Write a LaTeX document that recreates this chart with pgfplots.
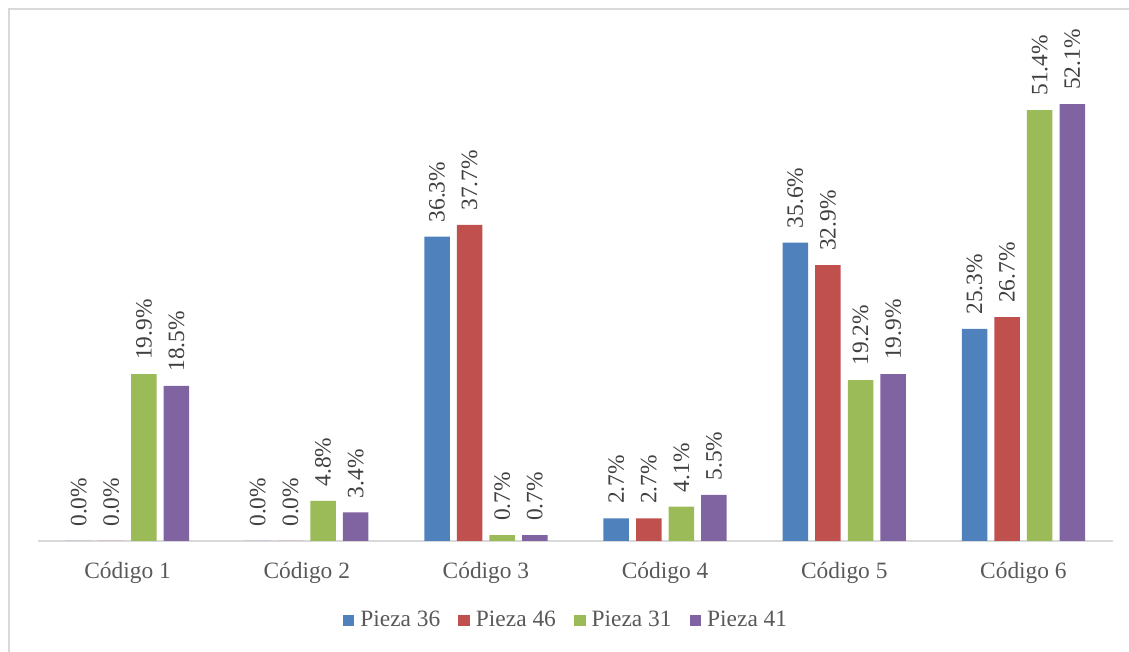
\documentclass[border=0pt]{standalone}
\usepackage{pgfplots}
\pgfplotsset{compat=1.18}
\usepackage{fontspec}
\setmainfont{Liberation Serif}

\definecolor{p36}{HTML}{4F81BD}
\definecolor{p46}{HTML}{C0504D}
\definecolor{p31}{HTML}{9BBB59}
\definecolor{p41}{HTML}{8064A2}
\definecolor{gridgray}{HTML}{D9D9D9}
\definecolor{labelgray}{HTML}{404040}
\definecolor{textgray}{HTML}{595959}

\begin{document}
\begin{tikzpicture}[font=\fontsize{11.7pt}{14pt}\selectfont]
  \useasboundingbox (0,0) rectangle (564.5pt,326pt);
  % outer chart frame
  \draw[gridgray, line width=1pt] (4.5pt,-20pt) -- (4.5pt,321.5pt) -- (600pt,321.5pt);
  \begin{axis}[
    at={(19pt,55.5pt)}, anchor=south west,
    scale only axis, width=537.5pt, height=251.5pt,
    ybar=3.55pt, bar width=12.75pt,
    xmin=-0.5, xmax=5.5, ymin=0, ymax=60,
    axis x line=bottom, axis y line=none,
    axis line style={draw=gridgray, line width=0.75pt, -},
    xtick={0,1,2,3,4,5},
    xticklabels={Código 1, Código 2, Código 3, Código 4, Código 5, Código 6},
    xtick style={draw=none},
    xticklabel style={text=textgray, yshift=-5pt},
    clip=false,
    /pgf/number format/assume math mode=true,
    nodes near coords={\pgfmathprintnumber[fixed,fixed zerofill,precision=1]{\pgfplotspointmeta}\%},
    nodes near coords style={rotate=90, anchor=west, inner xsep=7pt, text=labelgray},
    legend columns=4,
    legend style={at={(0.492,-0.158)}, anchor=center, draw=none, text=textgray,
      inner sep=0pt, column sep=0pt,
      /tikz/every odd column/.append style={column sep=1pt},
      /tikz/every even column/.append style={column sep=7pt}},
    legend image code/.code={\fill[#1] (0pt,-2.9pt) rectangle (5.85pt,2.95pt);},
  ]
    \addplot[fill=p36, draw=none] coordinates {(0,0.0) (1,0.0) (2,36.3) (3,2.7) (4,35.6) (5,25.3)};
    \addplot[fill=p46, draw=none] coordinates {(0,0.0) (1,0.0) (2,37.7) (3,2.7) (4,32.9) (5,26.7)};
    \addplot[fill=p31, draw=none] coordinates {(0,19.9) (1,4.8) (2,0.7) (3,4.1) (4,19.2) (5,51.4)};
    \addplot[fill=p41, draw=none] coordinates {(0,18.5) (1,3.4) (2,0.7) (3,5.5) (4,19.9) (5,52.1)};
    \legend{Pieza 36, Pieza 46, Pieza 31, Pieza 41}
  \end{axis}
\end{tikzpicture}
\end{document}
